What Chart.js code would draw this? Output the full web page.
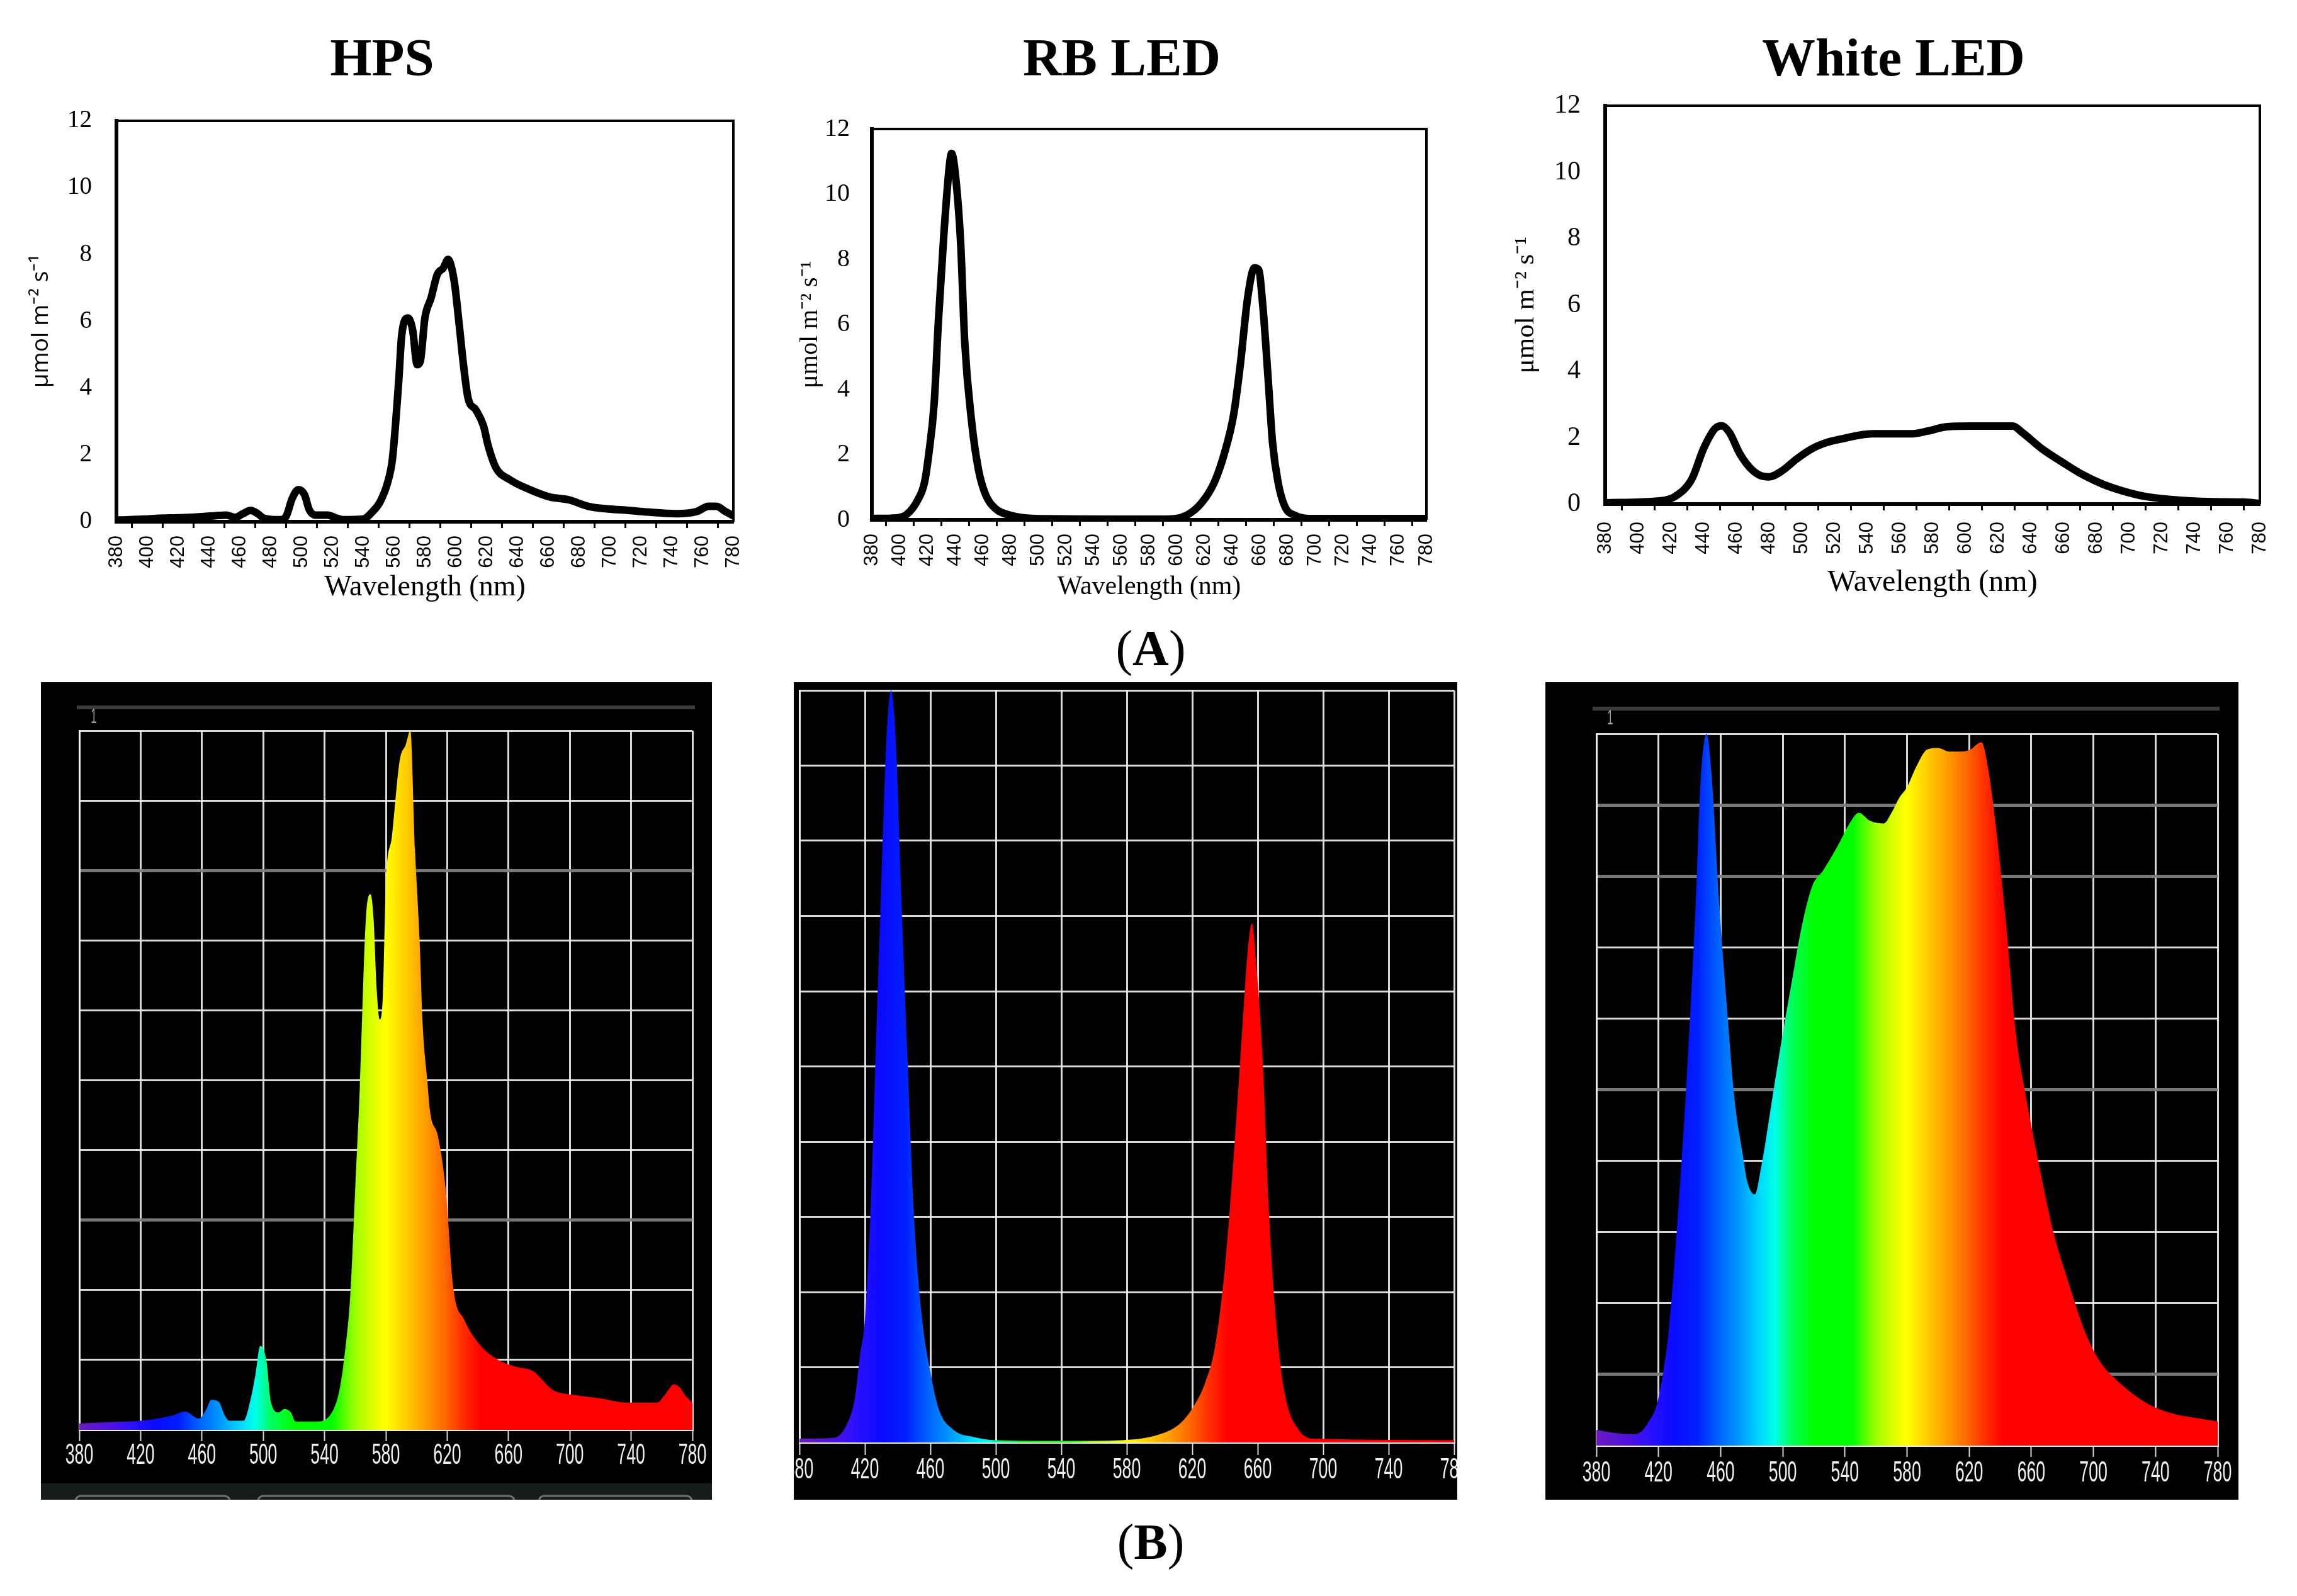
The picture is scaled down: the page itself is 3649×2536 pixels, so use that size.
<!DOCTYPE html>
<html>
<head>
<meta charset="utf-8">
<script src="https://cdn.jsdelivr.net/npm/chart.js@4.4.1/dist/chart.umd.min.js"></script>
<style>
  html, body { margin: 0; padding: 0; background: #fff; }
  body { width: 3649px; height: 2536px; position: relative; overflow: hidden; }
  canvas { position: absolute; }
  .title { position: absolute; width: 800px; text-align: center; font-family: "Liberation Serif", serif; font-weight: bold; font-size: 85px; line-height: 85px; color: #000; }
  .tag { position: absolute; width: 300px; text-align: center; font-family: "Liberation Serif", serif; font-size: 80px; line-height: 80px; color: #000; }
</style>
</head>
<body>
<div class="title" style="left:207px; top:49px;">HPS</div>
<div class="title" style="left:1382px; top:49px;">RB LED</div>
<div class="title" style="left:2608px; top:49px;">White LED</div>
<div class="tag" style="left:1678px; top:990px;">(<b>A</b>)</div>
<div class="tag" style="left:1678px; top:2410px;">(<b>B</b>)</div>

<canvas id="top1" width="1220" height="844" style="left:15px; top:122px;"></canvas>
<canvas id="top2" width="1121" height="827" style="left:1215px; top:135px;"></canvas>
<canvas id="top3" width="1280" height="861" style="left:2380px; top:98px;"></canvas>
<canvas id="spec1" width="1066" height="1299" style="left:65px; top:1084px;"></canvas>
<canvas id="spec2" width="1054" height="1299" style="left:1261px; top:1084px;"></canvas>
<canvas id="spec3" width="1101" height="1299" style="left:2455px; top:1084px;"></canvas>

<script>
// ============== Data
const topTickNm  = [380, 400, 420, 440, 460, 480, 500, 520, 540, 560, 580, 600, 620, 640, 660, 680, 700, 720, 740, 760, 780];
const topYTicks  = [0, 2, 4, 6, 8, 10, 12];
const specTickNm = [380, 420, 460, 500, 540, 580, 620, 660, 700, 740, 780];
const specYTicks = [0, 0.1, 0.2, 0.3, 0.4, 0.5, 0.6, 0.7, 0.8, 0.9, 1];

// (A) quantum flux, umol m-2 s-1
const hpsNm  = [380, 400, 406, 420, 432, 444, 451, 457, 462, 467, 471, 476, 486, 490, 494, 498, 502, 505, 509, 517, 522, 527, 540, 546, 551, 556, 559, 563, 565, 569, 572, 575, 577, 580, 584, 588, 592, 595, 599, 602, 605, 608, 613, 618, 621, 626, 635, 648, 661, 673, 686, 699, 712, 724, 743, 756, 764, 769, 775, 780];
const hpsVal = [0.05, 0.08, 0.1, 0.12, 0.14, 0.18, 0.2, 0.13, 0.24, 0.34, 0.26, 0.1, 0.06, 0.16, 0.7, 0.96, 0.8, 0.36, 0.2, 0.2, 0.12, 0.06, 0.08, 0.3, 0.6, 1.2, 1.9, 4.2, 5.6, 6.1, 5.75, 4.7, 4.8, 6.1, 6.7, 7.4, 7.6, 7.85, 7.2, 6.0, 4.7, 3.7, 3.35, 2.87, 2.28, 1.62, 1.26, 0.96, 0.74, 0.66, 0.46, 0.38, 0.34, 0.29, 0.24, 0.3, 0.46, 0.46, 0.3, 0.18];

const rbNm  = [380, 398, 405, 413, 418, 421, 425, 428, 432, 436, 437.5, 440, 444, 447, 452, 457, 462, 469, 480, 498, 590, 607, 618, 627, 634, 641, 646, 651, 656, 659, 662, 666, 669, 673, 678, 685, 696, 780];
const rbVal = [0.04, 0.06, 0.16, 0.6, 1.15, 2.0, 3.6, 6.1, 8.8, 10.9, 11.25, 10.7, 8.55, 5.46, 3.0, 1.52, 0.78, 0.35, 0.14, 0.04, 0.02, 0.14, 0.53, 1.15, 2.0, 3.24, 4.85, 6.8, 7.74, 7.68, 6.57, 4.23, 2.38, 1.15, 0.4, 0.14, 0.04, 0.04];

const whiteNm  = [380, 414, 423, 433, 440, 447, 451, 456, 462, 468, 474, 480, 488, 497, 506, 515, 525, 537, 543, 555, 568, 577, 589, 604, 629, 635, 647, 660, 672, 684, 696, 709, 721, 736, 752, 770, 780];
const whiteVal = [0.04, 0.1, 0.24, 0.76, 1.66, 2.27, 2.36, 2.15, 1.54, 1.12, 0.88, 0.82, 1.0, 1.36, 1.66, 1.85, 1.97, 2.09, 2.12, 2.12, 2.12, 2.2, 2.33, 2.35, 2.35, 2.15, 1.66, 1.24, 0.88, 0.6, 0.4, 0.24, 0.16, 0.1, 0.07, 0.06, 0.02];

// (B) spectrometer screens, relative intensity
const hpsSpecNm  = [380, 400, 420, 440, 449, 458, 463, 466, 471, 475, 478, 487, 492, 495, 498, 502, 505, 510, 514, 518, 521, 536, 546, 550, 553, 557, 560, 563, 567, 570, 572, 574, 576, 578, 580, 584, 589, 593, 596, 599, 602, 604, 607, 609, 614, 619, 624, 631, 642, 655, 665, 676, 689, 703, 720, 737, 757, 762, 768, 772, 775, 780];
const hpsSpecVal = [0.009, 0.011, 0.013, 0.02, 0.026, 0.016, 0.03, 0.043, 0.04, 0.02, 0.013, 0.013, 0.046, 0.08, 0.12, 0.1, 0.04, 0.025, 0.03, 0.025, 0.012, 0.012, 0.03, 0.06, 0.106, 0.2, 0.345, 0.49, 0.733, 0.766, 0.73, 0.63, 0.587, 0.62, 0.78, 0.85, 0.957, 0.98, 1.0, 0.83, 0.7, 0.58, 0.5, 0.453, 0.42, 0.345, 0.203, 0.158, 0.12, 0.098, 0.09, 0.084, 0.057, 0.05, 0.045, 0.039, 0.039, 0.05, 0.065, 0.06, 0.05, 0.039];

const rbSpecNm  = [380, 401, 409, 414, 417, 420, 424, 427, 430, 433, 436, 439, 442, 446, 450, 455, 460, 465, 474, 487, 500, 545, 577, 599, 612, 620, 628, 634, 640, 645, 650, 654, 656.5, 659, 663, 667, 672, 677, 685, 694, 780];
const rbSpecVal = [0.005, 0.006, 0.024, 0.06, 0.115, 0.163, 0.337, 0.545, 0.74, 0.927, 1.0, 0.927, 0.74, 0.51, 0.3, 0.163, 0.094, 0.045, 0.017, 0.007, 0.003, 0.002, 0.003, 0.01, 0.024, 0.045, 0.08, 0.128, 0.233, 0.37, 0.53, 0.656, 0.69, 0.64, 0.51, 0.3, 0.142, 0.06, 0.017, 0.005, 0.003];

const whiteSpecNm  = [380, 391, 405, 413, 420, 427, 433, 438, 444, 447, 451, 454, 459, 464, 469, 474, 477, 482, 486, 492, 499, 506, 512, 519, 526, 536, 543, 549, 556, 565, 570, 575, 580, 586, 593, 600, 607, 613, 620, 628, 632, 637, 644, 650, 657, 664, 674, 684, 694, 704, 718, 734, 751, 768, 780];
const whiteSpecVal = [0.022, 0.018, 0.016, 0.031, 0.067, 0.17, 0.34, 0.51, 0.764, 0.93, 1.0, 0.947, 0.764, 0.617, 0.485, 0.412, 0.372, 0.353, 0.39, 0.47, 0.566, 0.654, 0.727, 0.786, 0.808, 0.845, 0.874, 0.889, 0.878, 0.874, 0.889, 0.91, 0.925, 0.954, 0.978, 0.98, 0.975, 0.975, 0.977, 0.988, 0.954, 0.874, 0.727, 0.58, 0.485, 0.405, 0.302, 0.229, 0.163, 0.119, 0.086, 0.06, 0.045, 0.038, 0.034];

// colour of light by wavelength, used for the spectrometer fill
const rainbowNm  = [380, 400, 415, 430, 445, 458, 470, 485, 495, 505, 520, 545, 560, 572, 580, 592, 605, 618, 630, 642, 780];
const rainbowCol = ['#6a1cc0', '#5010e0', '#2a10ff', '#0a0aff', '#0020ff', '#0060ff', '#0090ff', '#00d8ff', '#00ffe8', '#00ff60', '#00ff00', '#00ff00', '#a0ff00', '#e0ff00', '#ffff00', '#ffd000', '#ffa000', '#ff6a00', '#ff3000', '#ff0000', '#ff0000'];

const toPoints = (nm, val) => nm.map((x, i) => ({ x, y: val[i] }));


// ============== Plugins
const framePlugin = {
  id: 'frame',
  afterDraw(chart) {
    const { ctx, chartArea: a } = chart;
    ctx.save();
    ctx.strokeStyle = '#000';
    ctx.lineWidth = 4;
    ctx.beginPath();
    ctx.moveTo(a.left, a.top);
    ctx.lineTo(a.right, a.top);
    ctx.lineTo(a.right, a.bottom);
    ctx.stroke();
    ctx.restore();
  }
};

const spectroPlugin = {
  id: 'spectro',
  beforeDraw(chart) {
    const { ctx, width, height } = chart;
    ctx.save();
    ctx.fillStyle = '#000';
    ctx.fillRect(0, 0, width, height);
    ctx.restore();
  },
  afterDraw(chart, args, opts) {
    const { ctx, chartArea: a, scales } = chart;
    ctx.save();
    // condensed white wavelength labels
    ctx.fillStyle = '#f0f0f0';
    ctx.font = '46px "Liberation Sans"';
    ctx.textAlign = 'center';
    ctx.textBaseline = 'middle';
    scales.x.ticks.forEach(t => {
      ctx.save();
      ctx.translate(scales.x.getPixelForValue(t.value), a.bottom + opts.labelGap);
      ctx.scale(0.58, 1);
      ctx.fillText(String(t.value), 0, 0);
      ctx.restore();
    });
    if (opts.header) {
      const h = opts.header;
      ctx.strokeStyle = '#3c3c3c';
      ctx.lineWidth = 6;
      ctx.beginPath();
      ctx.moveTo(h.x0, h.y);
      ctx.lineTo(h.x1, h.y);
      ctx.stroke();
      ctx.fillStyle = '#a0a0a0';
      ctx.font = '34px "Liberation Sans"';
      ctx.save();
      ctx.translate(h.labelX, h.y + 16);
      ctx.scale(0.5, 1);
      ctx.fillText('1', 0, 0);
      ctx.restore();
    }
    if (opts.footer) {
      const f = opts.footer;
      ctx.fillStyle = '#161c1a';
      ctx.fillRect(0, f.y, chart.width, chart.height - f.y);
      ctx.strokeStyle = '#707070';
      ctx.lineWidth = 3;
      f.buttons.forEach(([x0, x1]) => {
        ctx.beginPath();
        ctx.roundRect(x0, f.y + 20, x1 - x0, 40, 8);
        ctx.stroke();
      });
    }
    ctx.restore();
  }
};


// ============== Charts
const makeTopChart = (id, nm, val, o) => {
  const ctx = document.getElementById(id).getContext('2d');

  const data = {
    datasets: [{
      data: toPoints(nm, val),
      borderColor: '#000',
      borderWidth: 12,
      pointRadius: 0,
      tension: 0.4,
      cubicInterpolationMode: 'monotone',
      borderJoinStyle: 'round',
      borderCapStyle: 'round',
      fill: false
    }]
  };

  const config = {
    type: 'line',
    data: data,
    options: {
      responsive: false,
      animation: false,
      devicePixelRatio: 1,
      // paddings larger than the scales' own label padding, so the plot box stays put
      layout: { padding: { top: 70, right: 70, left: 0, bottom: 0 } },
      plugins: { legend: { display: false }, tooltip: { enabled: false } },
      scales: {
        x: {
          type: 'linear',
          min: 380,
          max: 780,
          afterBuildTicks: s => { s.ticks = topTickNm.map(v => ({ value: v })); },
          ticks: {
            autoSkip: false,
            minRotation: 90,
            maxRotation: 90,
            padding: o.xPad,
            color: '#000',
            font: { family: 'Liberation Sans', size: 31 }
          },
          grid: { display: true, drawOnChartArea: false, drawTicks: true, tickLength: 10, tickWidth: 3, tickColor: '#000', offset: true },
          border: { display: true, color: '#000', width: 6 },
          title: {
            display: true,
            text: 'Wavelength (nm)',
            color: '#000',
            font: { family: 'Liberation Serif', size: o.xTitleSize },
            padding: { top: 0, bottom: 4 }
          },
          afterFit: s => { s.height = o.xH; }
        },
        y: {
          min: 0,
          max: 12,
          afterBuildTicks: s => { s.ticks = topYTicks.map(v => ({ value: v })); },
          ticks: { padding: o.yPad, color: '#000', font: { family: 'Liberation Serif', size: o.yTickSize } },
          grid: { display: true, drawOnChartArea: false, drawTicks: false },
          border: { display: true, color: '#000', width: 6 },
          title: {
            display: true,
            text: 'μmol m⁻² s⁻¹',
            color: '#000',
            font: { family: o.yTitleFamily, size: o.yTitleSize },
            padding: { top: o.yTitlePad, bottom: 0 }
          },
          afterFit: s => { s.width = 170; }
        }
      }
    },
    plugins: [framePlugin]
  };

  return new Chart(ctx, config);
};

const rainbowFill = (c) => {
  const chart = c.chart;
  if (!chart.chartArea) return 'rgba(0,0,0,0)';
  const xs = chart.scales.x;
  const g = chart.ctx.createLinearGradient(xs.getPixelForValue(380), 0, xs.getPixelForValue(780), 0);
  rainbowNm.forEach((nm, i) => g.addColorStop((nm - 380) / 400, rainbowCol[i]));
  return g;
};

const makeSpecChart = (id, nm, val, o) => {
  const ctx = document.getElementById(id).getContext('2d');
  const isGrey = c => o.greyRows.includes(Math.round(c.tick.value * 10));

  const data = {
    datasets: [{
      data: toPoints(nm, val),
      borderWidth: 0,
      pointRadius: 0,
      tension: 0.25,
      cubicInterpolationMode: 'monotone',
      fill: 'origin',
      backgroundColor: rainbowFill
    }]
  };

  const config = {
    type: 'line',
    data: data,
    options: {
      responsive: false,
      animation: false,
      devicePixelRatio: 1,
      layout: { padding: o.pad },
      plugins: {
        legend: { display: false },
        tooltip: { enabled: false },
        spectro: { labelGap: o.labelGap, header: o.header, footer: o.footer }
      },
      scales: {
        x: {
          type: 'linear',
          min: 380,
          max: 780,
          z: 1,
          afterBuildTicks: s => { s.ticks = specTickNm.map(v => ({ value: v })); },
          ticks: { display: false },
          grid: { color: 'rgba(240,240,240,0.9)', lineWidth: 3, drawTicks: true, tickLength: o.tickLen, tickColor: '#d8d8d8', tickWidth: 2 },
          border: { display: true, color: '#ececec', width: 3 },
          afterFit: s => { s.height = o.xH; }
        },
        y: {
          min: 0,
          max: 1,
          z: 1,
          afterBuildTicks: s => { s.ticks = specYTicks.map(v => ({ value: v })); },
          ticks: { display: false },
          grid: {
            color: c => isGrey(c) ? 'rgba(125,125,125,0.95)' : 'rgba(240,240,240,0.9)',
            lineWidth: c => isGrey(c) ? 5 : 3,
            drawTicks: false
          },
          border: { display: true, color: '#ececec', width: 3 },
          afterFit: s => { s.width = 0; }
        }
      }
    },
    plugins: [spectroPlugin]
  };

  return new Chart(ctx, config);
};

const createCharts = () => {
  makeTopChart('top1', hpsNm, hpsVal, {
    xPad: 12, xH: 137, xTitleSize: 46, yPad: 39, yTickSize: 39,
    yTitleFamily: 'Open Sans', yTitleSize: 37, yTitlePad: 28
  });
  makeTopChart('top2', rbNm, rbVal, {
    xPad: 12, xH: 136, xTitleSize: 42, yPad: 35, yTickSize: 40,
    yTitleFamily: 'Liberation Serif', yTitleSize: 40, yTitlePad: 48
  });
  makeTopChart('top3', whiteNm, whiteVal, {
    xPad: 18, xH: 158, xTitleSize: 48, yPad: 39, yTickSize: 42,
    yTitleFamily: 'Liberation Serif', yTitleSize: 43, yTitlePad: 19
  });

  makeSpecChart('spec1', hpsSpecNm, hpsSpecVal, {
    pad: { left: 61, right: 31, top: 77, bottom: 0 }, xH: 111, tickLen: 18, labelGap: 41,
    greyRows: [3, 8],
    header: { y: 40, x0: 57, x1: 1039, labelX: 84 },
    footer: { y: 1273, buttons: [[55, 300], [345, 752], [791, 1034]] }
  });
  makeSpecChart('spec2', rbSpecNm, rbSpecVal, {
    pad: { left: 9, right: 5, top: 13, bottom: 0 }, xH: 91, tickLen: 20, labelGap: 44,
    greyRows: [],
    header: null,
    footer: null
  });
  makeSpecChart('spec3', whiteSpecNm, whiteSpecVal, {
    pad: { left: 81, right: 33, top: 82, bottom: 0 }, xH: 86, tickLen: 18, labelGap: 44,
    greyRows: [1, 5, 8, 9],
    header: { y: 42, x0: 75, x1: 1071, labelX: 103 },
    footer: null
  });
};

document.addEventListener('DOMContentLoaded', () => {
  document.fonts.ready.then(createCharts);
});
</script>
</body>
</html>
